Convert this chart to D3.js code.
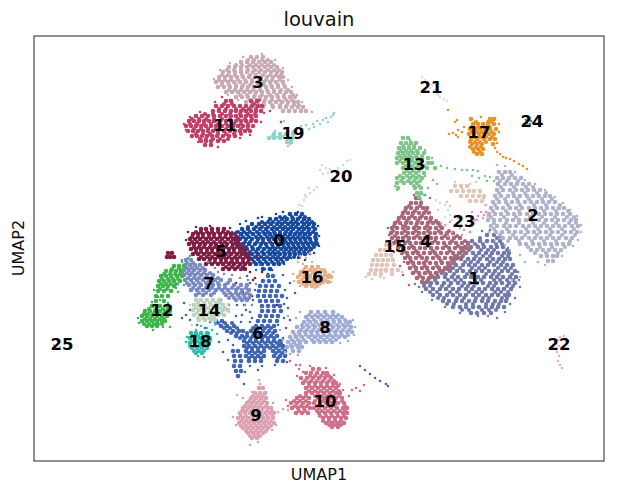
<!DOCTYPE html>
<html><head><meta charset="utf-8">
<script src="https://cdn.jsdelivr.net/npm/d3@7/dist/d3.min.js"></script>
<style>html,body{margin:0;background:#fff}svg{display:block}text{font-family:"DejaVu Sans",sans-serif}</style>
</head><body><svg id="c" width="622" height="495"></svg>
<script>
// Hand-read positions: rows of [y,[x,...]] in plot read-off units.
const categories=["0","1","2","3","4","5","6","7","8","9","10","11","12","13","14","15","16","17","18","19","20","21","22","23","24","25"];
const colors=["#174a9e","#6f7aab","#aeb3cb","#c9aab2","#a8687a","#7f1d45","#3f66b3","#7a88c4","#a0acd8","#dca0af","#d06f88","#c03f68","#3db54a","#7fc48a","#bcd2bd","#e0c6b8","#e8ae85","#e8932a","#2dbdb0","#8fd2c8","#c8e0da","#ecd5e0","#e8b0cf","#e88fc4","#777777","#bbbbbb"];
const labelX=[279,474,533,258,426,221,258,209,325,256,325,225,162,414,209,395,312,479,200,293,341,431,559,464,532,62];
const labelY=[240,278,215,82,241,251,333,283,327,415,401,125,310,164,310,246,277,132,341,133,176,87,344,221,121,344];
const c1=[[235,[487,494]],[241,[472,480,487,493,500]],[247,[465,471,478,484,491,497,503]],[253,[460,466,473,479,486,492,498,504,509]],[259,[455,461,468,474,480,487,493,499,505,510]],[265,[450,456,463,469,475,482,488,494,501,507,513]],[271,[443,450,457,463,470,476,482,489,495,502,508,515]],[277,[431,438,445,452,458,465,471,478,484,491,497,503,510,516]],[283,[424,431,437,444,451,458,464,470,477,483,490,496,502,509,515]],[289,[426,433,440,446,453,459,466,472,479,485,492,498,504,511]],[295,[433,440,447,453,460,466,473,479,486,492,498,505,509]],[301,[443,449,456,462,469,475,482,488,495,501,506]],[307,[453,460,466,473,479,486,492,498,504]],[313,[471,477,484,491]]];
const f1=[[238,[480,497]],[244,[468,475,483,496,502]],[250,[462,469,481,488,494,507]],[256,[457,463,476,483,490,502,508]],[262,[453,465,471,478,490,497,503]],[268,[447,453,460,472,479,485,498,505,511]],[274,[437,446,454,467,473,486,493,499,512]],[280,[428,435,448,455,461,475,481,494,500,507,513]],[286,[424,430,442,449,462,468,474,488,494,507,513]],[292,[430,437,450,457,469,476,482,495,501,508]],[298,[438,444,457,464,476,483,489,502,507]],[304,[447,454,466,473,486,493,499]],[310,[462,469,482,489,496]]];
const c4=[[198,[416,419]],[203,[411,416,421]],[208,[406,411,417,423,427]],[213,[403,408,413,419,424,429]],[218,[399,404,409,415,420,426,431]],[223,[395,400,406,411,417,422,428,433,438]],[228,[392,397,403,408,414,419,425,430,436,442]],[233,[391,397,402,408,413,419,424,430,435,441,447,453]],[238,[392,398,403,409,414,420,425,431,436,442,448,454,460]],[243,[394,399,405,410,416,421,427,432,438,444,450,456,462,468]],[248,[398,403,409,414,420,425,431,437,443,449,455,461,466,470]],[253,[402,407,413,418,424,430,435,441,447,453,459,465]],[258,[405,410,416,422,427,433,439,445,451,457,461]],[263,[408,413,419,424,430,436,442,448,454]],[268,[410,416,422,427,433,439,445,450]],[273,[413,419,425,430,436,442]],[278,[417,423,429,435]],[282,[422,427]]];
const f4=[[206,[409,420]],[211,[405,415,426]],[216,[402,412,422]],[221,[398,407,418,430,436]],[226,[394,405,416,427,440]],[231,[393,405,416,428,439,449]],[236,[395,406,417,428,445,457]],[241,[396,408,423,435,452,465]],[246,[401,412,428,446,458]],[251,[404,416,433,450,463]],[256,[408,420,437,455]],[261,[411,426,441,452]],[266,[414,425,437,448]],[271,[416,428,440]],[276,[420,432]]];
const c2=[[172,[499,505,510]],[178,[497,503,509,515,521]],[184,[498,505,511,517,523,529]],[190,[497,503,510,516,522,528,534,540]],[196,[495,501,508,514,520,527,533,539,545,550]],[202,[493,499,506,512,518,525,531,537,543,549,555]],[208,[491,497,503,510,516,522,529,535,541,547,553,559,564]],[214,[489,495,501,508,514,520,527,533,539,545,551,557,563,570]],[220,[488,494,500,507,513,519,526,532,539,546,552,558,564,571,576]],[226,[491,497,504,510,516,523,529,535,541,547,553,559,565,572,578]],[232,[496,502,509,515,521,528,534,540,546,552,558,565,571,577]],[238,[503,510,516,522,529,535,541,547,553,559,566,572]],[244,[520,526,533,539,545,551,557,563,569]],[250,[531,537,543,549,555,561]],[256,[541,547,553,557]],[261,[548,553]]];
const f2=[[175,[502,512]],[181,[500,507,518]],[187,[501,514,526,533]],[193,[499,513,525,537,546]],[199,[497,505,517,529,542,552]],[205,[495,508,520,534,546,560]],[211,[493,506,519,531,544,556,568]],[217,[491,504,516,530,542,555,567,574]],[223,[494,506,519,533,544,556,569,576]],[229,[494,507,526,538,550,562,574]],[235,[500,513,525,537,550,562,575]],[241,[508,519,532,544,556,570]],[247,[528,540,552,565]],[253,[535,546,558]]];
const c0=[[214,[290,296,302]],[219,[270,276,282,287,293,298,304,309]],[224,[252,259,265,271,277,282,288,293,298,304,309,314]],[229,[242,248,254,260,266,272,277,283,288,293,299,304,309,315]],[234,[235,241,247,253,259,265,270,275,280,285,290,295,300,305,310,316]],[239,[234,240,246,252,258,263,269,274,280,285,290,295,300,305,310,316]],[244,[237,243,249,255,261,266,272,278,283,288,293,298,303,308,313,317]],[249,[241,247,253,258,264,270,275,281,286,291,296,301,306,311]],[254,[245,252,258,264,270,275,280,285,290,295,300,305]],[259,[252,258,264,270,276,281,287]],[264,[256,262,268,274,279]],[269,[263,270]]];
const f0=[[217,[280,285,292,300,305]],[222,[262,268,273,279,285,291,296,302,307,312]],[227,[248,256,262,268,274,280,285,291,296,302,307,313]],[232,[238,244,250,257,263,268,274,280,286,291,297,302,308,313]],[237,[238,243,249,256,261,267,272,278,283,288,293,298,303,308,315]],[242,[238,245,250,257,263,270,276,281,286,291,296,301,306,311,316]],[247,[240,246,252,260,267,273,278,284,289,294,299,304,309,314]],[252,[244,250,256,262,268,273,278,284,289,294,299,304,309]],[257,[249,255,261,267,273,278,284,289,294,299]],[262,[254,260,266,272,278,283]]];
const c5=[[229,[201,206,212,218,224]],[234,[193,198,203,209,214,220,226,231]],[239,[190,195,200,206,211,217,222,228,233,238]],[244,[189,194,200,205,211,216,222,227,233,239]],[249,[191,196,201,207,212,218,223,229,234,240,244]],[254,[193,198,204,209,215,220,226,231,237,242,248]],[259,[199,204,210,215,221,226,232,237,243,249]],[264,[206,212,218,223,229,234,240,245,250]],[269,[223,229,235,241,245]],[253,[168,172]],[257,[167,170,174]]];
const f5=[[232,[196,201,207,212,218,223,228]],[237,[192,198,203,209,214,220,225,231,236]],[242,[192,197,203,208,214,220,225,231,236]],[247,[194,199,204,210,215,221,226,232,237,243]],[252,[196,201,207,212,218,223,229,234,240,245]],[257,[201,207,212,218,224,229,235,240,246]],[262,[209,215,221,226,232,237,243,248]],[267,[226,232,238,243]]];
const c7=[[260,[186,191]],[265,[185,190,195,200]],[270,[184,189,194,200,205]],[275,[184,190,195,201,207,213]],[280,[185,191,197,203,209,215,221,230]],[285,[189,195,201,207,213,219,225,234,241,247]],[290,[191,197,203,209,216,222,228,236,242,249]],[295,[196,203,211,226,232,238,244,250]],[300,[236,242,247]]];
const f7=[[263,[187,193]],[268,[187,192,197,203]],[273,[187,192,198,204,210]],[278,[188,194,199,205,211,218]],[283,[187,193,199,206,212,218,228]],[288,[193,199,206,212,219,225,232,238,246]],[293,[199,206,214,224,230,236,241,247]],[298,[229,234,240,245,249]]];
const c6=[[276,[268,273]],[281,[263,269,275]],[286,[260,266,272,279]],[291,[259,265,271,277]],[296,[258,264,270,276,282]],[301,[260,266,272,278]],[306,[262,268,274,280]],[311,[262,268,274,281]],[316,[260,266,272,278]],[321,[216,222,258,264,270,277]],[326,[221,227,234,256,262,268,274]],[331,[227,233,239,243,251,257,263,269,275]],[336,[236,242,247,253,259,265,271,277]],[341,[244,250,256,262,268,274,280]],[346,[244,249,255,261,267,273,279,283]],[351,[233,238,246,252,258,264,273,279,285]],[356,[234,240,246,252,258,264,274,280,285]],[361,[235,241,249,255,261,277,283]],[366,[234,240]],[371,[236,241]],[376,[238]]];
const f6=[[323,[218,225,232]],[328,[224,230,237,253,259,265,271]],[333,[231,237,247,254,260,267,273]],[338,[240,245,251,256,262,268,274]],[343,[247,253,259,265,271,277,281]],[348,[247,252,258,264,270,276,282]],[353,[249,255,261,276,282]],[358,[249,255,261,278]]];
const c8=[[312,[311,318,325,333]],[317,[306,312,318,324,330,336,342]],[322,[304,310,316,322,328,334,340,346,350]],[327,[297,303,309,315,321,327,333,339,345,351]],[332,[293,299,305,311,317,323,329,335,341,347,352]],[337,[290,296,302,309,315,321,327,333,339,345]],[342,[288,294,300,306,314,320,326,332]],[347,[287,292,298,302]],[351,[293,299]]];
const f8=[[315,[309,315,321,327,333,338]],[320,[308,314,321,327,333,339,345]],[325,[302,307,313,319,325,331,337,343,348]],[330,[301,307,313,319,325,331,337,343,349]],[335,[295,300,306,312,318,324,330,336,342,348]],[340,[292,298,304,312,318,324,330,336]],[345,[291,296,300]]];
const c9=[[388,[259,263]],[393,[255,260,265]],[398,[251,256,261,266]],[403,[247,252,257,262,267]],[408,[243,248,253,258,263,268,271]],[413,[240,245,250,255,260,265,270,274]],[418,[238,243,248,253,258,263,268,273]],[423,[239,244,249,254,259,264,269,274]],[428,[243,248,253,258,263,268]],[433,[248,253,258,263]],[438,[252,257]]];
const f9=[[396,[253,258,263]],[401,[249,254,259,264]],[406,[245,250,255,260,266]],[411,[242,246,251,256,261,267,272]],[416,[241,246,252,257,262,267,272]],[421,[241,246,251,256,261,266,271]],[426,[241,246,251,256,261,266,271]],[431,[246,251,256,261,266]],[436,[250,255,260]]];
const c10=[[369,[313,319]],[373,[306,311,317,323,327]],[378,[301,307,313,319,325,331]],[383,[303,309,315,321,327,333,336]],[388,[306,312,318,324,330,336]],[393,[306,312,318,324,330,336,340]],[398,[297,303,309,318,324,330,336,342]],[403,[291,297,303,309,314,320,326,332,338,344]],[408,[292,298,304,310,314,319,325,331,337,343,347]],[413,[296,302,308,319,325,331,337,343,347]],[418,[323,329,335,341,346]],[423,[326,332,338,344]],[427,[332,338]]];
const f10=[[376,[310,315,321,326,329]],[381,[305,311,317,323,329,334]],[386,[309,315,321,327,333,338]],[391,[309,315,321,327,333,339]],[396,[300,306,315,321,327,333,339]],[401,[294,300,306,315,323,329,335,342]],[406,[295,301,307,317,322,328,335,345]],[411,[299,305,317,322,328,334,340,345]],[416,[320,326,332,338,344]],[421,[323,329,335,341]],[425,[329,335,341]]];
const c3=[[57,[251,257,263]],[62,[241,247,253,259,265,271]],[67,[229,235,241,247,253,259,265,271,277]],[72,[223,229,235,241,247,253,259,265,271,277,282]],[77,[219,225,231,237,243,249,255,261,267,273,279,283]],[82,[216,222,228,234,240,246,252,258,264,270,276,283]],[87,[218,224,230,236,242,248,254,260,266,272,278,285]],[92,[226,232,238,244,250,256,262,268,274,280,286,291]],[97,[236,242,248,254,260,266,272,278,284,290,295]],[102,[246,252,258,264,270,276,282,288,294,298]],[107,[251,257,263,273,280,286,292,298,303]],[111,[283,289,295,301,306]]];
const f3=[[60,[248,254,262,268]],[65,[236,242,250,256,262,268,274]],[70,[227,234,241,248,255,261,268,274,279]],[75,[222,228,235,242,250,256,263,270,276,281]],[80,[219,225,231,238,245,252,259,266,272,280]],[85,[222,229,236,243,250,257,264,271,278,284]],[90,[229,235,241,247,253,260,267,274,281,288]],[95,[240,247,255,262,270,277,284,293]],[100,[250,257,265,272,279,286,292]],[105,[256,264,272,280,287,294,299]]];
const c11=[[101,[226,231,251,257]],[106,[216,222,228,234,240,246,252,258,262]],[111,[213,219,225,231,236,241,246,251,256,261]],[116,[196,202,208,214,220,226,231,236,241,246,251,256]],[121,[189,194,199,204,209,214,220,226,231,236,241,246,251,256]],[126,[186,191,196,201,206,211,216,222,228,233,238,243,248,253]],[131,[188,193,198,203,208,213,218,224,230,235,240,245,250]],[136,[192,197,202,207,212,217,223,229,235]],[141,[201,206,211,218,224]],[145,[205,211]]];
const f11=[[104,[224,232,254]],[109,[219,226,236,243,249,256]],[114,[205,213,222,230,240,248,255]],[119,[192,199,206,214,222,230,238,245,252]],[124,[190,197,204,211,218,226,234,241,248]],[129,[194,201,208,216,226,233,241,248]],[134,[196,203,210,218,226,234,241]],[139,[200,206,213,220,228]]];
const c12=[[266,[174,179,184]],[271,[166,171,176,181]],[276,[161,166,171,177,182]],[281,[159,164,169,174,180]],[286,[158,163,168,174]],[291,[158,164,171]],[296,[156,162,168]],[301,[156,164]],[306,[152,160,167]],[311,[145,150,155,160,165,170]],[316,[142,147,152,157,162,167]],[321,[142,147,152,157,162,165]],[326,[147,152,157]]];
const f12=[[269,[172,180]],[274,[164,170,175,180]],[279,[162,168,173,178]],[284,[161,166,171,176]],[289,[160,167]],[309,[149,156,163,168]],[314,[144,148,153,158,163,168]],[319,[145,150,155,160,164]],[324,[144,149,154,158,162]]];
const c13=[[138,[403,408]],[143,[401,406,411,416]],[148,[399,404,409,414,420]],[153,[398,403,408,413,418,424]],[158,[397,402,407,412,417,422,428]],[163,[397,403,409,415,421,428,432]],[168,[403,409,415,421,427,435]],[173,[404,410,416,424]],[178,[397,403,410,416,422]],[183,[397,404,411,417]],[188,[398,415,421]],[193,[417,421]],[197,[419]]];
const f13=[[146,[403,409,414]],[151,[401,406,411,417]],[156,[400,405,410,416,422]],[161,[400,406,412,418]],[166,[406,412,418,424]],[171,[407,413,419]],[176,[400,407,413,419]],[181,[401,408,414,420]],[186,[414,419]]];
const c14=[[300,[196,201,207,213,219]],[305,[194,199,205,211,217,223]],[310,[193,199,205,211,217,223,228]],[315,[194,200,206,212,218,224]],[320,[199,205,211,215]]];
const f14=[[303,[198,204,210,216,220]],[308,[196,202,208,214,220,225]],[313,[197,203,209,215,221]],[318,[198,203,209,214]]];
const c15=[[245,[386,391]],[250,[380,385,390]],[255,[376,381,386,391]],[260,[373,378,383,388,393]],[265,[372,377,382,387,394]],[270,[371,376,381,386,392,398]],[274,[369,375,381,392]],[186,[455,461,467]],[191,[451,457,463,469,474,480]],[196,[461,467,473,479,484]],[201,[470,476,482]]];
const c16=[[267,[306,312,318]],[272,[301,307,313,319,325]],[277,[298,304,310,316,322,328,331]],[282,[299,305,311,317,323,328]],[286,[306,312,317]]];
const f16=[[270,[304,310,315,321,324]],[275,[300,305,310,315,320,325,329]],[280,[302,308,313,319,325]],[284,[303,308,314,320]]];
const c17=[[119,[471,490,494]],[124,[473,478,483,488,494]],[129,[470,475,480,485,490,496]],[134,[469,474,479,484,489,494]],[139,[471,477,484,490,495]],[144,[472,477,482,493]],[149,[473,478,483]],[154,[477,482]]];
const f17=[[122,[476,488,492]],[127,[472,478,484,490]],[132,[472,477,482,487,492]],[137,[474,480,486,492]],[142,[470,475,480,486]],[147,[470,476,481]],[152,[474,480]]];
const c18=[[333,[191,196,201,207]],[338,[190,195,200,205,210]],[343,[190,195,200,205,209]],[348,[192,197,202,207]],[353,[196,202]]];
const f18=[[336,[193,198,203,208]],[341,[192,197,202,208]],[346,[190,195,200,205]],[351,[194,199,204]]];
const c19=[[138,[269,274,280,288,292]],[134,[274,280,286,293]],[142,[287,291]]];
const stray0=[[238,266],[265,269],[284,264],[272,270],[268,274],[291,258],[310,254],[305,260],[232,232],[240,224],[246,221],[258,218],[262,217],[276,214],[283,212],[298,212],[318,226],[319,236],[319,246],[314,253],[298,258]];
const stray1=[[520,287],[515,298],[505,312],[419,287],[497,318],[518,272],[519,280],[510,304],[482,231],[490,230],[500,237],[508,248],[415,284],[422,292],[432,300],[445,307],[460,313],[478,316],[488,316]];
const stray2=[[497,165],[505,166],[484,198],[486,205],[483,218],[489,232],[495,240],[505,245],[510,250],[520,255],[538,262],[525,262],[545,265],[520,277],[512,280],[515,172],[525,180],[535,184],[545,190],[555,197],[563,203],[570,210],[577,216],[581,225],[581,232],[578,240],[573,246],[562,256]];
const stray3=[[312,112],[243,108],[232,100],[214,79],[220,70],[230,63],[243,57],[262,54],[275,60],[283,68],[288,80],[292,87],[297,95],[302,102],[228,95],[238,100]];
const stray4=[[402,225],[388,228],[425,282],[409,285],[403,275],[400,266],[425,195],[430,198],[477,245],[470,232],[404,262],[389,235],[394,252],[414,195],[436,272],[447,270]];
const stray5=[[230,262],[250,272],[253,280],[248,290],[255,278],[262,272],[236,283],[243,292],[252,296],[277,305],[257,256],[268,240],[186,240],[188,232],[196,227],[210,226],[230,228],[236,232]];
const stray6=[[240,268],[247,276],[244,305],[237,305],[250,312],[236,316],[253,300],[285,290],[290,283],[283,275],[295,293],[288,308],[284,318],[242,315],[250,322],[186,315],[182,318],[190,320],[197,325],[205,328],[184,303],[190,310],[219,342],[223,352],[228,360],[233,345],[250,366],[258,370],[245,372],[244,384],[275,365],[262,366],[360,366],[365,370],[370,374],[375,378],[380,381],[386,384],[388,386],[290,320],[278,325],[250,283],[239,296],[256,270],[260,265],[246,310],[252,318],[241,322],[255,290],[287,298],[284,304],[290,336],[286,328],[283,338],[214,318],[210,322],[228,340],[287,362],[286,355]];
const stray7=[[183,272],[178,284],[215,292],[221,300],[229,305],[245,305],[252,305],[218,272],[208,262],[200,300],[215,268],[224,274],[232,275],[240,278],[248,280],[256,284],[182,260],[190,256]];
const stray8=[[283,340],[280,330],[285,352],[288,316],[296,318],[300,312],[353,320],[280,348],[355,327],[354,335],[348,341],[340,343],[290,354],[298,355]];
const stray9=[[259,380],[260,384],[237,395],[243,398],[233,417],[250,445],[258,436],[258,442],[272,430],[278,412],[283,409],[288,410],[273,403],[266,392],[252,392],[236,425],[276,425],[261,388]];
const stray10=[[290,361],[296,365],[299,369],[297,376],[303,372],[352,390],[356,388],[360,391],[349,396],[364,385],[286,400],[288,406],[300,365],[310,366],[326,368],[334,375],[340,384],[343,390]];
const stray11=[[230,100],[222,97],[260,100],[264,113],[261,122],[270,111],[281,122],[262,105],[184,124],[186,130],[200,112],[190,117],[215,102],[218,147],[198,142],[240,138],[250,135]];
const stray12=[[182,262],[178,268],[188,258],[152,302],[160,300],[158,297],[168,303],[184,285],[172,290],[178,292],[138,318],[170,327],[154,290],[176,288],[139,323],[163,327],[153,330]];
const stray13=[[402,137],[410,140],[425,150],[432,158],[436,168],[441,166],[447,168],[455,169],[462,170],[467,170],[473,170],[478,171],[472,176],[479,178],[485,176],[490,177],[487,181],[494,181],[497,184],[433,180],[428,188],[425,176],[437,184],[395,186],[397,190],[421,200],[424,195]];
const stray14=[[229,312],[192,325],[215,325],[190,305],[228,304]];
const stray15=[[430,215],[438,210],[447,202],[450,206],[462,188],[476,182],[485,205],[400,252],[392,258],[384,278],[402,272],[372,279],[380,277],[386,272],[366,277],[455,182],[470,184]];
const stray16=[[300,256],[306,258],[312,262],[303,264],[298,262],[294,281],[293,274],[333,272],[331,282],[315,288],[300,286],[310,253]];
const stray17=[[449,134],[453,133],[456,135],[458,130],[462,132],[464,127],[458,137],[455,122],[457,120],[499,124],[499,132],[495,118],[481,117],[497,143],[495,148],[497,152],[500,154],[503,157],[506,158],[510,159],[514,161],[519,164],[523,166],[527,169],[448,110]];
const stray18=[[196,330],[201,326],[207,328],[212,330],[215,324],[186,342],[187,337],[198,356],[204,357],[211,340],[209,333],[217,334]];
const stray19=[[287,128],[293,131],[297,128],[301,126],[306,125],[309,129],[313,124],[317,121],[320,124],[323,120],[326,118],[328,122],[331,117],[333,115],[334,113],[284,121],[303,129],[314,127],[275,131],[272,136],[277,137],[283,136],[287,139],[290,144],[292,140],[288,146]];
const stray20=[[320,170],[322,165],[326,168],[330,169],[333,171],[338,168],[343,165],[347,161],[350,160],[323,174],[328,173],[336,172],[317,187],[314,190],[310,193],[306,197],[304,200],[302,206],[299,205],[305,195],[309,188],[436,200],[440,203],[445,205],[448,210],[445,217],[450,215],[452,220]];
const stray21=[[422,77],[425,80],[428,82],[432,85],[435,90],[437,93],[440,97],[444,99],[447,101],[430,88],[433,83],[438,95]];
const stray22=[[560,337],[564,336],[558,340],[556,344],[553,348],[559,346],[557,352],[559,356],[558,361],[560,365],[562,368],[556,342],[553,345]];
const stray23=[[441,223],[445,225],[450,222],[454,226],[452,232],[460,228],[464,230],[470,226],[473,224],[475,220],[478,216],[481,212],[484,215],[486,212],[488,216],[468,216],[472,212],[477,220],[470,232],[462,235],[458,218],[448,236]];
const stray24=[[527,123],[530,124],[528,120],[533,123],[531,121],[529,126],[526,120]];
const stray25=[[54,345],[60,347]];
const strays=[stray0,stray1,stray2,stray3,stray4,stray5,stray6,stray7,stray8,stray9,stray10,stray11,stray12,stray13,stray14,stray15,stray16,stray17,stray18,stray19,stray20,stray21,stray22,stray23,stray24,stray25];
const cores=[c0,c1,c2,c3,c4,c5,c6,c7,c8,c9,c10,c11,c12,c13,c14,c15,c16,c17,c18,c19,[],[],[],[],[],[]];
const fills=[f0,f1,f2,f3,f4,f5,f6,f7,f8,f9,f10,f11,f12,f13,f14,[],f16,f17,f18,[],[],[],[],[],[],[]];
const drawOrder=[1,2,4,0,5,3,6,7,8,9,10,11,12,13,14,15,16,17,18,19,20,21,22,23,24,25];

const W=622,H=495,m={l:34,r:18,t:36,b:34};
const svg=d3.select("#c");
const x=d3.scaleLinear().domain([34,604]).range([m.l,W-m.r]);
const y=d3.scaleLinear().domain([36,461]).range([m.t,H-m.b]);
const expand=rows=>rows.flatMap(([py,xs])=>xs.map(px=>[px,py]));
drawOrder.forEach(i=>{
  const g=svg.append("g").attr("fill",colors[i]);
  [[expand(cores[i]),2.3],[expand(fills[i]),2.1],[strays[i],1.3]].forEach(([pts,r])=>{
    g.append("g").selectAll("circle").data(pts).join("circle")
      .attr("cx",d=>x(d[0])).attr("cy",d=>y(d[1])).attr("r",r);
  });
});
svg.append("rect").attr("x",x(34)).attr("y",y(36)).attr("width",x(604)-x(34)).attr("height",y(461)-y(36))
  .attr("fill","none").attr("stroke","#222").attr("stroke-width",1);
svg.append("g").selectAll("text").data(categories).join("text")
  .attr("x",(d,i)=>x(labelX[i])).attr("y",(d,i)=>y(labelY[i])).attr("dy","0.36em")
  .attr("text-anchor","middle").attr("font-size",16.5).attr("font-weight","bold").attr("fill","#000").text(d=>d);
svg.append("text").attr("x",319).attr("y",26).attr("text-anchor","middle").attr("font-size",19.5).attr("fill","#111").text("louvain");
svg.append("text").attr("x",319).attr("y",480).attr("text-anchor","middle").attr("font-size",16).attr("fill","#111").text("UMAP1");
svg.append("text").attr("transform","translate(24,248) rotate(-90)").attr("text-anchor","middle").attr("font-size",16).attr("fill","#111").text("UMAP2");
</script></body></html>
